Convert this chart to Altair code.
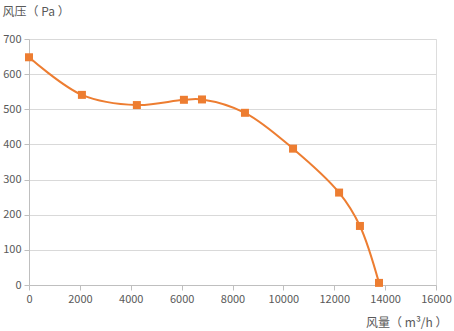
import altair as alt
import pandas as pd

flow = [0, 2080, 4240, 6090, 6800, 8490, 10380, 12190, 13010, 13760]
pressure = [648, 541, 512, 527, 528, 490, 388, 263, 168, 6]
x_ticks = [0, 2000, 4000, 6000, 8000, 10000, 12000, 14000, 16000]
y_ticks = [0, 100, 200, 300, 400, 500, 600, 700]

df = pd.DataFrame({"flow": flow, "pressure": pressure})

font = "Noto Sans CJK SC"
orange = "#ED7D31"

x = alt.X("flow:Q",
          scale=alt.Scale(domain=[0, 16000], nice=False, zero=True),
          axis=alt.Axis(values=x_ticks, grid=False,
                        domainColor="#bfbfbf", tickColor="#bfbfbf", tickSize=5,
                        labelColor="#595959", labelFontSize=11, labelFont=font,
                        labelPadding=3, format="d", labelOverlap=False,
                        labelFlush=False,
                        title="风量（ m³/h ）", titleFont=font, titleFontSize=12,
                        titleFontWeight="normal", titleColor="#595959",
                        titleAlign="right", titleBaseline="middle",
                        titleX=418, titleY=37))
y = alt.Y("pressure:Q",
          scale=alt.Scale(domain=[0, 700], nice=False),
          axis=alt.Axis(values=y_ticks, grid=True,
                        gridColor="#d9d9d9", domainColor="#bfbfbf",
                        tickColor="#bfbfbf", tickSize=5,
                        labelColor="#595959", labelFontSize=11, labelFont=font,
                        labelPadding=3, labelOverlap=False, labelFlush=False,
                        title="风压（ Pa ）", titleFont=font, titleFontSize=12,
                        titleFontWeight="normal", titleColor="#595959",
                        titleAngle=0, titleAlign="left", titleBaseline="middle",
                        titleX=-27, titleY=-28))

base = alt.Chart(df).encode(x=x, y=y)
line = base.mark_line(color=orange, strokeWidth=2, interpolate="catmull-rom")
pts = base.mark_point(shape="square", filled=True, color=orange,
                      size=64, opacity=1)

chart = (line + pts).properties(
    width=407, height=246,
    autosize=alt.AutoSizeParams(type="none"),
    padding={"left": 29, "top": 39, "right": 18, "bottom": 46},
).configure_view(stroke=None).configure(background="white")

chart.save("out.html", embed_options={"renderer": "svg", "actions": False})
